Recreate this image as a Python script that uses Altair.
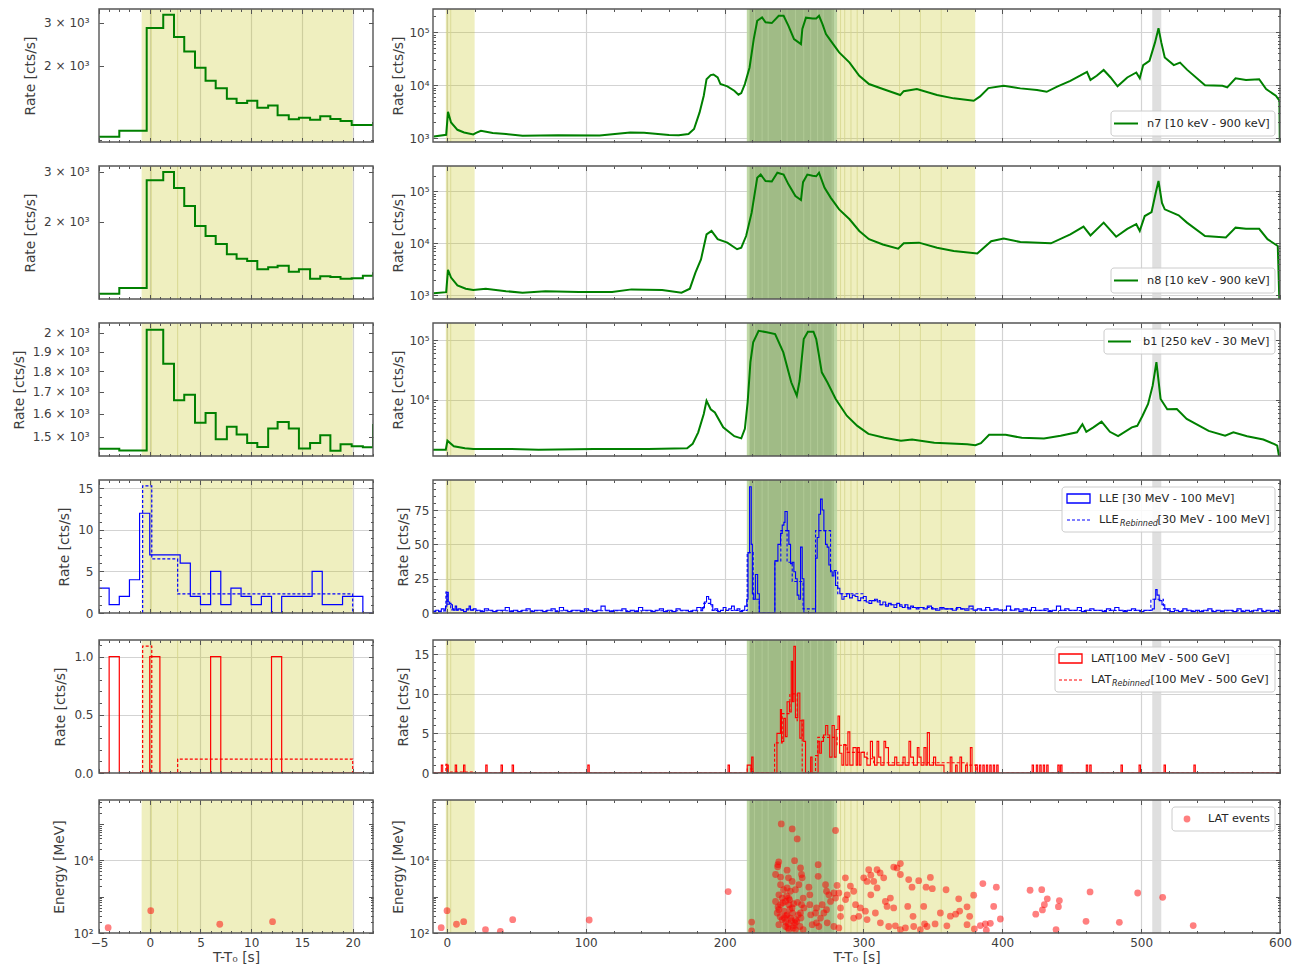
import altair as alt
import pandas as pd

FONT = "DejaVu Sans"
TXT = "#3d3d3d"
LEG_TXT = "#262626"
FRAME = "#555555"
GRIDC = "#d3d3d3"
C_GBM = "#008000"
C_LLE = "#0000ff"
C_LAT = "#ff0000"
C_YEL = "#bfbf00"
C_GRN = "#9db983"
C_GRN_EDGE = "#b8d49c"
C_GREY = "#dcdcdc"

WL, WR, H = 274, 847, 133
TL, TM = 4.5, 2.5

# ======================= DATA =======================
# --- shaded intervals
YEL_L_A, YEL_L_B = [-0.8], [20.0]
YEL_R_A, YEL_R_B = [-0.8, 280.6], [20.0, 380.5]
GRN_EDGE_A, GRN_EDGE_B = [216.0], [281.0]
GRN_A, GRN_B = [218.0], [278.6]
GREY_A, GREY_B = [508.0], [514.5]
BLOCK_L = [0.15, 2.75]
BLOCK_G = [221.5, 227.0, 231.4, 241.0, 245.0, 251.0, 257.0, 262.0, 267.0, 271.0, 277.5]
BLOCK_Y = [283.5, 286.5, 291.0, 295.5, 326.0, 341.0, 356.0]

# --- left GBM light curves (bin edges, rates)
GBM_L_EDGES = [-5, -3, -0.3, 1.33, 2.39, 3.4, 4.46, 5.5, 6.5, 7.6, 8.56, 9.6, 10.6, 11.67,
               12.6, 13.7, 14.7, 15.8, 16.8, 17.8, 18.8, 19.9, 21.0, 22.0]
N7_L = [1026, 1086, 2862, 3236, 2630, 2290, 1968, 1738, 1622, 1470, 1410, 1441, 1349, 1379,
        1256, 1210, 1228, 1205, 1245, 1213, 1191, 1146, 1146, 1180]
N8_L = [1111, 1164, 2805, 3000, 2630, 2274, 1932, 1780, 1667, 1532, 1479, 1451, 1356, 1378,
        1397, 1330, 1356, 1256, 1280, 1273, 1256, 1260, 1285, 1323]
B1_L = [1452, 1445, 2018, 1837, 1660, 1686, 1560, 1603, 1490, 1543, 1510, 1475, 1459, 1535,
        1563, 1535, 1453, 1475, 1507, 1444, 1470, 1462, 1458, 1555]

# --- left LLE / LAT
LLE_L_T = [-5, -4, -3, -2, -1, 0, 1, 2, 3, 4, 5, 6, 7, 8, 9, 10, 11, 12, 13, 14, 15, 16, 17, 18,
           19, 20, 21, 22]
LLE_L_V = [3, 1, 2, 4, 12, 7, 7, 7, 6, 2, 1, 5, 1, 3, 2, 1, 2, 0, 2, 2, 2, 5, 1, 1, 2, 2, 0, 0]
LLE_REB_L_T = [-0.7, -0.7, 0.2, 2.75, 20.0]
LLE_REB_L_V = [0, 15.3, 6.5, 2.3, 0]
LAT_L_SPIKES = [-4, 0, 6, 12]
LAT_REB_L_T = [-0.7, -0.7, 0.2, 2.75, 20.0]
LAT_REB_L_V = [0, 1.09, 0, 0.12, 0]
EV_L = [(-4.1, 140), (0.1, 410), (6.9, 174), (12.1, 205)]

# --- right GBM light curves
N7_R_T = [-9.5, -0.5, 0.8, 3, 7.6, 12.4, 19, 21, 24.5, 33, 42.6, 54.5, 80, 110, 132, 142, 160, 167,
          174, 178, 182, 185, 187, 190, 192, 195, 197, 202, 207, 210, 212, 214.6, 218, 221, 223.5,
          227, 229.5, 234, 239, 242.5, 246, 250, 255, 256, 258.6, 263.4, 266, 268, 270.5, 273,
          276.5, 282.5, 290, 297, 304, 314, 326.5, 329, 338.5, 353, 365, 379.4, 384, 390, 401, 413,
          425, 432, 439.5, 449, 456, 461, 463.5, 468, 473, 478, 483, 490, 496.5, 499, 501.5, 506,
          510, 512.5, 514.5, 517, 523.5, 528, 533, 546, 558.6, 562, 568, 575.5, 585, 590, 597,
          599.6, 600]
N7_R_V = [1070, 1150, 3130, 1970, 1430, 1275, 1170, 1250, 1370, 1240, 1190, 1100, 1130, 1110, 1275,
          1260, 1140, 1130, 1190, 1480, 3050, 6300, 13000, 15500, 15900, 14000, 10500, 9500, 7850,
          6600, 7100, 10500, 21700, 74600, 166000, 192000, 155000, 150000, 206000, 206000, 133000,
          74600, 60000, 116000, 190000, 184000, 184000, 206000, 143000, 93000, 69000, 41700, 26800,
          15100, 10500, 8450, 6500, 7700, 8450, 6500, 5630, 5070, 6130, 8800, 9750, 8700, 8130,
          7500, 9400, 12100, 15100, 17900, 12600, 15100, 19400, 14000, 9500, 14000, 17400, 13500,
          24000, 29000, 64600, 120000, 64600, 33600, 24000, 26800, 19700, 10000, 9750, 9100, 13500,
          12500, 13000, 8450, 6300, 5070, 300]
N8_R_T = [-9.5, -0.5, 0.8, 3, 7.6, 13.6, 19, 28, 42.6, 54.5, 71, 95, 119, 133, 155, 169, 175, 179,
          183, 187, 190.6, 195, 202, 209, 212, 215.5, 219.5, 223.5, 226, 229.5, 234, 238, 242.5,
          246, 251, 255, 256.5, 259.6, 263.4, 266, 268, 272, 276.5, 282.5, 290, 297, 304, 314, 325,
          329, 340, 353, 365, 382, 392, 401, 413, 435, 449, 458.5, 463.5, 473, 482, 490, 496.5,
          499, 502.6, 507.5, 510.5, 512.5, 515, 517, 527, 533, 546, 561, 568, 575.5, 585, 591,
          598.4, 600]
N8_R_V = [1100, 1150, 3100, 2190, 1550, 1340, 1260, 1340, 1200, 1120, 1200, 1160, 1160, 1300, 1260,
          1120, 1340, 2720, 4900, 14800, 17300, 12000, 10300, 7700, 8250, 13800, 38900, 182000,
          210000, 158000, 155000, 228000, 210000, 136000, 81000, 68000, 150000, 210000, 200000,
          195000, 228000, 117000, 75000, 45000, 29000, 17300, 12000, 9500, 7900, 10000, 10300,
          8200, 7100, 6400, 11000, 12300, 10600, 10000, 14800, 20900, 14200, 25000, 13400, 19000,
          23300, 17300, 33500, 40000, 94000, 158000, 60000, 45000, 34500, 25000, 13800, 13000,
          20000, 19000, 19000, 12000, 8900, 300]
B1_R_T = [-10, -0.8, 0.4, 5, 13, 19, 46.6, 66, 106, 145, 173, 177, 181, 185, 187, 190, 193, 199,
          207, 212, 214.6, 216.6, 218.6, 220.6, 224.5, 230.4, 236.4, 242.3, 248, 252, 254, 257,
          260, 264, 266, 270, 274, 280, 288, 295.6, 303.6, 315, 327, 335, 351, 374.7, 380.6, 384.6,
          390.5, 402.4, 414, 430, 442, 453.8, 457.7, 460.5, 465.6, 471.5, 477.5, 483.4, 493.3,
          497.2, 501, 505, 508.3, 511, 514, 518.8, 525.7, 532.8, 548.6, 560.5, 566.4, 576.3, 588,
          596, 598, 600]
B1_R_V = [1455, 1455, 2055, 1660, 1535, 1490, 1490, 1455, 1490, 1490, 1535, 1820, 2840, 5760, 9600,
          6930, 6130, 3450, 2450, 2250, 3250, 9050, 42500, 91500, 143000, 135000, 126000, 62000,
          19600, 11700, 20800, 104000, 138000, 138000, 104000, 28800, 19600, 10300, 5400, 3640,
          2680, 2300, 2060, 2150, 1900, 1800, 1730, 1870, 2580, 2580, 2300, 2250, 2500, 2840, 3900,
          2900, 3450, 4300, 2900, 2450, 3450, 3650, 5400, 8500, 17200, 42500, 10300, 6930, 7000,
          4780, 3000, 2500, 2840, 2450, 2150, 1800, 1700, 900]

# --- right LLE (bin start, rate)
LLE_R_PRE = [(-10, 1), (-8, 2), (-6, 1), (-4, 3), (-2, 2), (-1, 5), (0, 15), (1, 8), (2, 7), (3, 6),
             (4, 3), (5, 2), (6, 5), (7, 2), (8, 3), (10, 2), (12, 1), (14, 3), (16, 5), (17, 2),
             (19, 3)]
LLE_R_BASE1 = [2, 1, 3, 2, 1, 2, 2, 4, 1, 2, 1, 2, 3, 1, 2, 2, 1, 2, 3, 1, 4, 2, 1, 2, 2, 1, 3, 2,
               1, 2, 5, 2, 1, 2, 2, 3, 1, 2, 1, 4, 2, 2, 1, 2, 3, 1, 2, 1, 3, 2, 2, 1, 2, 4, 2]  # 3-s bins from 21 s
LLE_R_MID = [(184, 4), (185.5, 8), (187, 12), (188.5, 10), (190, 6), (191.5, 2), (193, 3), (195, 1),
             (197, 2), (199, 4), (201, 2), (203, 3), (205, 5), (207, 2), (209, 3), (211, 1),
             (213, 2), (214.5, 5), (216, 10), (216.9, 44), (218.0, 92), (219.2, 50), (220.0, 14),
             (221.0, 10), (222.2, 28), (223.8, 14), (225.0, 0), (236.2, 38), (238.4, 50),
             (240.3, 58), (241.5, 64), (242.7, 66), (243.5, 74), (245.1, 60), (246.3, 50),
             (247.5, 36), (248.7, 37), (249.9, 30), (251.1, 25), (252.3, 13), (253.5, 10),
             (254.7, 48), (255.9, 25), (257.1, 0), (265.5, 40), (266.7, 55), (267.9, 72),
             (269.1, 83), (270.3, 75), (271.5, 60), (272.7, 50), (273.9, 48), (275.1, 35),
             (276.3, 30), (277.5, 27), (278.7, 30), (279.9, 20), (281.5, 18), (283, 14),
             (284.5, 10), (286, 12), (288, 14), (290, 11), (292, 13), (294, 12), (296, 9),
             (298, 11), (300, 12), (302, 8), (304, 7), (306, 9), (308, 10), (310, 8), (312, 6),
             (314, 8), (316, 5), (318, 7), (320, 6), (322, 4), (324, 7), (326, 5), (328, 4),
             (330, 6), (332, 3), (334, 5), (336, 4), (338, 3)]
LLE_R_BASE2 = [4, 3, 5, 3, 2, 4, 3, 3, 2, 4, 3, 2, 5, 2, 3, 2, 4, 2, 3, 2, 2, 5, 2, 3, 1, 3, 2, 4,
               2, 2, 3, 1, 2, 5, 2, 3, 2, 2, 4, 1, 2, 3, 2, 2, 1, 3, 2, 4, 2, 1, 2, 3, 2, 1, 2, 2]  # 3-s bins from 340 s
LLE_R_FLARE = [(508, 3), (509.5, 10), (510.5, 17), (511.5, 13), (513, 9), (515, 6), (517, 3),
               (519, 2)]
LLE_R_BASE3 = [1, 2, 1, 3, 2, 1, 2, 1, 2, 3, 1, 2, 1, 2, 2, 1, 3, 1, 2, 1, 2, 3, 1, 2, 1, 2, 1]  # 3-s bins from 521 s
LLE_REB_R = [(-10, 1.5), (-0.7, 15.3), (0.2, 6.5), (2.75, 2.3), (20, 1.6), (185, 7), (191, 1.8),
             (216.3, 44), (220.6, 10), (225.0, 0), (236.2, 38), (240.5, 60), (245.0, 37),
             (248.7, 23), (256.5, 3), (265.5, 60), (276.3, 31), (281.5, 14), (300, 9), (312, 6),
             (330, 4), (350, 3), (380, 2.2), (420, 1.8), (507, 10), (516, 3), (525, 1.6),
             (600, 1.6)]

# --- right LAT
LAT_R_SPIKES = [-4, 0, 6, 12, 28, 39, 47, 101.5, 202.5, 383.5, 386, 388.5, 391, 393.5, 396, 421.5,
                424.5, 427, 429.5, 432, 440, 442, 460.5, 463, 485.5, 498.5, 516.5, 538]
LAT_R_BURST = [(216.3, 1), (219, 0), (219.5, 2), (220.5, 0), (237.7, 5), (240.2, 8), (241, 4),
               (242.6, 6.9), (243.8, 4.6), (245, 9), (246.7, 7.7), (248, 14.1), (248.9, 9),
               (249.9, 16), (251, 7), (252.7, 10.1), (254.2, 4.4), (255.7, 6.7), (257, 4),
               (258.3, 0), (262, 2), (263, 0), (267.3, 4), (268.5, 2.5), (269.7, 4), (271.2, 4.8),
               (272.8, 6), (274.3, 4.8), (275.7, 2), (277.4, 6), (279, 2), (280.3, 5.5),
               (281.7, 7.2), (282.8, 2.5), (284.5, 1), (285.8, 3.6), (287.3, 1), (288.8, 5.2),
               (290.2, 1), (292.5, 3.2), (294.8, 1), (295.8, 3.2), (297, 1), (298.2, 2.6),
               (300.6, 2), (302.5, 1), (305, 4), (306.5, 2), (308, 1), (309.8, 4), (311, 2),
               (312.5, 1), (314.8, 4), (316, 3.2), (318, 1), (322.5, 2), (324, 1), (328.5, 2),
               (330, 1), (332.8, 4), (334, 2), (336, 1), (338.8, 3.2), (340, 2), (341.5, 1),
               (343.6, 3.2), (345, 1), (346, 5.1), (347.5, 1), (350.5, 2), (352, 1), (358, 0),
               (362.5, 2), (363.7, 0), (366.4, 1), (367.5, 0), (369.5, 2), (370.7, 0), (373.6, 1),
               (374.8, 0), (377, 3.2), (378.2, 0), (380.8, 1), (382, 0)]
LAT_REB_R = [(-10, 0), (-0.7, 1.09), (0.2, 0), (2.75, 0.12), (20, 0), (216.3, 0.5), (220.6, 0),
             (236, 3.8), (241.5, 7.5), (247, 10), (252.3, 6.6), (255.9, 0), (265.5, 2.2),
             (267.1, 4.5), (281, 3.5), (288.3, 2.6), (302.6, 1.8), (307.4, 1.3), (374.6, 1.0),
             (381.8, 0), (600, 0)]

# --- LAT events (time, energy MeV)
EV_PRE = [(-4.1, 140), (0.1, 410), (6.9, 174), (12.1, 205), (27.8, 123), (38.5, 111), (47.4, 232),
          (102.5, 228), (202.6, 1380), (219.5, 200), (219.5, 115)]
EV_BURST = [(240.8, 100000), (248.7, 73300), (252.3, 38900), (279.9, 66100),
            (238.4, 7590), (239.0, 9120), (238.2, 6610), (245.0, 5370), (250.4, 9770), (254.7, 6170),
            (255.4, 4070), (267.4, 7590), (267.4, 3630), (240.3, 3470), (246.0, 3310), (260.7, 1820),
            (272.7, 2140), (273.4, 1410), (281.0, 2040), (287.0, 3310), (300.2, 3310), (303.8, 5500),
            (309.8, 5500), (305.3, 3890), (314.6, 3310), (324.2, 6170), (326.6, 8130), (326.6, 4070),
            (332.6, 2950), (339.8, 2750), (348.2, 3390), (335.0, 1820), (345.1, 1820), (349.6, 1660),
            (359.5, 1550), (368.6, 870), (379.4, 1100), (374.6, 525), (376.5, 288), (366.4, 330),
            (369.3, 400), (355.4, 355), (362.6, 290), (351.6, 178), (360.1, 158), (374.6, 170),
            (343.4, 537), (335.7, 288), (344.0, 178), (331.9, 537), (317.0, 537), (321.8, 490),
            (315.8, 741), (319.4, 912), (305.3, 1120), (309.8, 1740), (302.6, 2630), (307.4, 2630),
            (293.0, 1410), (290.6, 1950), (288.3, 1120), (294.3, 603), (297.8, 490), (301.4, 398),
            (308.6, 355), (296.6, 288), (293.0, 257), (302.6, 234), (312.2, 190), (318.2, 151),
            (323.0, 158), (330.2, 138), (336.2, 151), (341.0, 123), (345.8, 151), (326.6, 123),
            (283.5, 490), (283.5, 288), (287.1, 832), (279.9, 912), (282.3, 1260), (278.7, 1260),
            (275.1, 1120), (276.3, 741), (273.4, 437), (270.3, 603), (271.5, 355), (269.1, 257),
            (273.9, 190), (278.7, 151), (282.3, 138), (267.9, 151), (265.5, 355), (266.2, 490),
            (261.4, 603), (256.6, 912), (255.4, 603), (253.0, 316), (250.7, 190), (249.5, 138),
            (254.3, 151), (256.6, 123), (246.1, 912), (247.3, 1410), (245.0, 1740), (242.5, 1550),
            (240.3, 2140), (239.1, 1120), (241.5, 912), (243.9, 741), (246.3, 603), (248.7, 490),
            (242.7, 398), (239.1, 437), (245.0, 316), (247.5, 257), (251.0, 234), (241.5, 234),
            (239.1, 170), (243.9, 151), (246.3, 123), (251.0, 123), (254.7, 355), (257.1, 490),
            (236.7, 741), (237.9, 355), (240.3, 603), (248.7, 2630), (255.9, 3310), (253.5, 2140),
            (261.4, 1120), (263.1, 170), (266.2, 190), (262.0, 316), (236.7, 4070), (251.0, 1550),
            (244.0, 200), (246.0, 180), (248.0, 220), (250.0, 160), (252.0, 210), (244.5, 300),
            (249.0, 350), (247.0, 450), (243.0, 260), (245.5, 140), (240.0, 280), (238.5, 520),
            (252.5, 700), (255.0, 260), (242.0, 680), (249.7, 640), (246.8, 820), (244.7, 1050),
            (321.8, 6500), (312.0, 4500)]
EV_POST = [(379.9, 129), (384.2, 160), (386.0, 2290), (387.8, 177), (388.5, 119), (391.4, 185),
           (393.8, 540), (395.7, 1820), (398.6, 243), (420.0, 1500), (424.1, 330), (428.4, 1560),
           (428.9, 430), (430.3, 600), (432.4, 870), (438.7, 123), (440.4, 530), (441.1, 780),
           (460.3, 210), (463.2, 1350), (484.3, 197), (497.5, 1260), (515.5, 960), (537.5, 160)]

# ======================= HELPERS =======================
ONE = pd.DataFrame({"k": [0]})


def spans(xs, a, b, color, opacity):
    df = pd.DataFrame({"a": a, "b": b})
    return alt.Chart(df).mark_rect(color=color, opacity=opacity, clip=True).encode(
        x=alt.X("a:Q", scale=xs, axis=None), x2="b:Q", y=alt.value(0), y2=alt.value(H))


def vlines(xs, vals, color, width, opacity):
    df = pd.DataFrame({"a": vals})
    return alt.Chart(df).mark_rule(color=color, strokeWidth=width, opacity=opacity, clip=True).encode(
        x=alt.X("a:Q", scale=xs, axis=None), y=alt.value(0), y2=alt.value(H))


def curve(xs, ys, t, v, color, width, dash=None, interp="step-after"):
    df = pd.DataFrame({"t": list(t), "v": list(v), "i": list(range(len(t)))})
    kw = dict(color=color, strokeWidth=width, interpolate=interp, clip=True)
    if dash:
        kw["strokeDash"] = dash
    return alt.Chart(df).mark_line(**kw).encode(
        x=alt.X("t:Q", scale=xs, axis=None), y=alt.Y("v:Q", scale=ys, axis=None), order="i:Q")


def dots(xs, ys, pairs):
    df = pd.DataFrame(pairs, columns=["t", "e"])
    return alt.Chart(df).mark_circle(color=C_LAT, opacity=0.5, size=46, clip=True).encode(
        x=alt.X("t:Q", scale=xs, axis=None), y=alt.Y("e:Q", scale=ys, axis=None))


def lbox(x1, x2, y1, y2):
    return alt.Chart(ONE).mark_rect(fill="white", fillOpacity=0.85, stroke="#cccccc", strokeWidth=1,
                                    cornerRadius=3).encode(
        x=alt.value(x1), x2=alt.value(x2), y=alt.value(y1), y2=alt.value(y2))


def ltext(x, y, s, size=11.3, italic=False):
    return alt.Chart(ONE).mark_text(text=s, align="left", baseline="middle", font=FONT, fontSize=size,
                                    color=LEG_TXT, fontStyle="italic" if italic else "normal").encode(
        x=alt.value(x), y=alt.value(y))


def lrule(x1, x2, y, color, width, dash=None):
    kw = dict(color=color, strokeWidth=width)
    if dash:
        kw["strokeDash"] = dash
    return alt.Chart(ONE).mark_rule(**kw).encode(x=alt.value(x1), x2=alt.value(x2), y=alt.value(y))


def lsym_rect(x1, x2, y1, y2, color):
    return alt.Chart(ONE).mark_rect(fillOpacity=0, stroke=color, strokeWidth=1.3).encode(
        x=alt.value(x1), x2=alt.value(x2), y=alt.value(y1), y2=alt.value(y2))


def ldot(x, y):
    return alt.Chart(ONE).mark_circle(color=C_LAT, opacity=0.5, size=46).encode(x=alt.value(x), y=alt.value(y))


def frame(w):
    return alt.Chart(ONE).mark_rect(fillOpacity=0, stroke=FRAME, strokeWidth=1.4).encode(
        x=alt.value(0), x2=alt.value(w), y=alt.value(0), y2=alt.value(H))


def make_panel(w, xdom, ydom, ylog, xmaj, xmin, ymaj, ymin, ygrid, ytitle, ylab, xlabels, content,
               ypad, ytpad):
    xs = alt.Scale(domain=xdom, nice=False, zero=False)
    if ylog:
        ys = alt.Scale(type="log", domain=ydom, nice=False)
    else:
        ys = alt.Scale(type="linear", domain=ydom, nice=False, zero=False)
    dummy = pd.DataFrame({"x": [xdom[0]], "y": [ydom[0]]})

    def dl(xaxis, yaxis):
        return alt.Chart(dummy).mark_point(opacity=0).encode(
            x=alt.X("x:Q", scale=xs, axis=xaxis), y=alt.Y("y:Q", scale=ys, axis=yaxis))

    gx = [v for v in xmaj if xdom[0] < v < xdom[1]]
    gkw = dict(grid=True, ticks=False, labels=False, domain=False, title=None, gridColor=GRIDC,
               gridWidth=1.2)
    grid_layer = dl(alt.Axis(values=gx, **gkw), alt.Axis(values=ygrid, **gkw) if ygrid else None)

    tick_kw = dict(domain=False, grid=False, tickColor=FRAME, tickWidth=1, zindex=1)
    quiet = dict(labels=False, title=None, **tick_kw)

    xa = dict(orient="bottom", values=xmaj, tickSize=TL, offset=-TL, labelFlush=False,
              labelOverlap=False, **tick_kw)
    if xlabels:
        xa.update(labels=True, title="T-T₀ [s]", labelPadding=4, titlePadding=2)
    else:
        xa.update(labels=False, title=None)
    ya = dict(orient="left", values=ymaj, tickSize=TL, offset=-TL, labelOverlap=False,
              labelFlush=False, labelPadding=ypad, titlePadding=ytpad, title=ytitle, **tick_kw)
    ya.update(ylab)
    main_layer = dl(alt.Axis(**xa), alt.Axis(**ya))

    minor_layer = dl(alt.Axis(orient="bottom", values=xmin, tickSize=TM, offset=-TM, **quiet),
                     alt.Axis(orient="left", values=ymin, tickSize=TM, offset=-TM, **quiet) if ymin else None)
    tr_layer = dl(alt.Axis(orient="top", values=xmaj, tickSize=TL, offset=-TL, **quiet),
                  alt.Axis(orient="right", values=ymaj, tickSize=TL, offset=-TL, **quiet))
    trm_layer = dl(alt.Axis(orient="top", values=xmin, tickSize=TM, offset=-TM, **quiet),
                   alt.Axis(orient="right", values=ymin, tickSize=TM, offset=-TM, **quiet) if ymin else None)

    layers = [grid_layer] + content(xs, ys) + [frame(w), main_layer, minor_layer, tr_layer, trm_layer]
    return alt.layer(*layers).resolve_axis(x="independent", y="independent").properties(width=w, height=H)


def right_shading(xs):
    return [spans(xs, YEL_R_A, YEL_R_B, C_YEL, 0.25),
            spans(xs, GRN_EDGE_A, GRN_EDGE_B, C_GRN_EDGE, 0.9),
            spans(xs, GRN_A, GRN_B, C_GRN, 0.92),
            spans(xs, GREY_A, GREY_B, C_GREY, 0.9),
            vlines(xs, BLOCK_G, "#b4cd98", 1, 0.8),
            vlines(xs, BLOCK_Y + BLOCK_L, "#d6d68c", 1, 0.8)]


def left_shading(xs):
    return [spans(xs, YEL_L_A, YEL_L_B, C_YEL, 0.25),
            vlines(xs, BLOCK_L, "#d6d68c", 1, 0.9)]


def step_pairs(pairs):
    return [p[0] for p in pairs], [p[1] for p in pairs]


def spike_series(spikes, start, end, extra=()):
    pts = [(start, 0)]
    for t in spikes:
        pts += [(t, 1), (t + 1, 0)]
    pts += list(extra)
    pts.append((end, 0))
    pts = sorted(pts, key=lambda p: p[0])
    return step_pairs(pts)


def lle_right_series():
    pts = list(LLE_R_PRE)
    pts += [(21 + 3 * i, v) for i, v in enumerate(LLE_R_BASE1)]
    pts += LLE_R_MID
    pts += [(340 + 3 * i, v) for i, v in enumerate(LLE_R_BASE2)]
    pts += LLE_R_FLARE
    pts += [(521 + 3 * i, v) for i, v in enumerate(LLE_R_BASE3)]
    pts.append((600, 1))
    return step_pairs(pts)


# ======================= AXES SPECS =======================
XDOM_L, XDOM_R = [-5, 22], [-10, 600]
XMAJ_L = [-5, 0, 5, 10, 15, 20]
XMIN_L = [v for v in range(-5, 23) if v % 5 != 0]
XMAJ_R = [0, 100, 200, 300, 400, 500, 600]
XMIN_R = [v for v in range(-0, 600, 20) if v % 100 != 0]

LOG_R_LAB = {"labelExpr": "datum.value == 100 ? '10²' : datum.value == 1000 ? '10³' : datum.value == 10000 ? '10⁴' : datum.value == 100000 ? '10⁵' : ''"}
EV_LAB = {"labelExpr": "datum.value == 100 ? '10²' : datum.value == 10000 ? '10⁴' : ''"}
K_LAB = {"labelExpr": "(datum.value / 1000) + ' × 10³'"}

DEC_MIN_34 = [m * 10 ** e for e in (3, 4) for m in range(2, 10)] + [200000]
EV_MAJ = [100, 1000, 10000, 100000]
EV_MIN = [m * 10 ** e for e in (2, 3, 4) for m in range(2, 10)] + [200000, 300000, 400000]

RATE = "Rate [cts/s]"

# ======================= PANELS =======================
panels = []

# row 1: n7
panels.append(make_panel(
    WL, XDOM_L, [977, 3420], True, XMAJ_L, XMIN_L, [2000, 3000], [1000], [], RATE, K_LAB, False,
    lambda xs, ys: left_shading(xs) + [curve(xs, ys, GBM_L_EDGES, N7_L, C_GBM, 2)], 10, 6))
panels.append(make_panel(
    WR, XDOM_R, [840, 277000], True, XMAJ_R, XMIN_R, [1000, 10000, 100000], DEC_MIN_34,
    [1000, 10000, 100000], RATE, LOG_R_LAB, False,
    lambda xs, ys: right_shading(xs) + [
        curve(xs, ys, N7_R_T, N7_R_V, C_GBM, 2, interp="linear"),
        lbox(678, 842, 102, 127), lrule(681, 705, 114.5, C_GBM, 2), ltext(714, 114.5, "n7 [10 keV - 900 keV]")],
    4, 3))

# row 2: n8
panels.append(make_panel(
    WL, XDOM_L, [1064, 3150], True, XMAJ_L, XMIN_L, [2000, 3000], [], [], RATE, K_LAB, False,
    lambda xs, ys: left_shading(xs) + [curve(xs, ys, GBM_L_EDGES, N8_L, C_GBM, 2)], 10, 6))
panels.append(make_panel(
    WR, XDOM_R, [849, 307000], True, XMAJ_R, XMIN_R, [1000, 10000, 100000], DEC_MIN_34,
    [1000, 10000, 100000], RATE, LOG_R_LAB, False,
    lambda xs, ys: right_shading(xs) + [
        curve(xs, ys, N8_R_T, N8_R_V, C_GBM, 2, interp="linear"),
        lbox(678, 842, 102, 127), lrule(681, 705, 114.5, C_GBM, 2), ltext(714, 114.5, "n8 [10 keV - 900 keV]")],
    4, 3))

# row 3: b1
panels.append(make_panel(
    WL, XDOM_L, [1423, 2056], True, XMAJ_L, XMIN_L, [1500, 1600, 1700, 1800, 1900, 2000], [], [],
    RATE, K_LAB, False,
    lambda xs, ys: left_shading(xs) + [curve(xs, ys, GBM_L_EDGES, B1_L, C_GBM, 2)], 10, 6))
panels.append(make_panel(
    WR, XDOM_R, [1140, 193000], True, XMAJ_R, XMIN_R, [10000, 100000],
    [m * 10 ** e for e in (3, 4) for m in range(2, 10)], [10000, 100000], RATE, LOG_R_LAB, False,
    lambda xs, ys: right_shading(xs) + [
        curve(xs, ys, B1_R_T, B1_R_V, C_GBM, 2, interp="linear"),
        lbox(671, 842, 6, 31), lrule(675, 698, 18.5, C_GBM, 2), ltext(710, 18.5, "b1 [250 keV - 30 MeV]")],
    4, 3))

# row 4: LLE
lle_rt, lle_rv = lle_right_series()
lle_reb_t, lle_reb_v = step_pairs(LLE_REB_R)
panels.append(make_panel(
    WL, XDOM_L, [0, 16], False, XMAJ_L, XMIN_L, [0, 5, 10, 15],
    [v for v in range(1, 16) if v % 5 != 0], [5, 10, 15], RATE, {"format": "d"}, False,
    lambda xs, ys: left_shading(xs) + [
        curve(xs, ys, LLE_L_T, LLE_L_V, C_LLE, 1.2),
        curve(xs, ys, LLE_REB_L_T, LLE_REB_L_V, C_LLE, 1.2, dash=[3, 2])], 6, 6))
panels.append(make_panel(
    WR, XDOM_R, [0, 96.9], False, XMAJ_R, XMIN_R, [0, 25, 50, 75],
    [v for v in range(5, 96, 5) if v % 25 != 0], [25, 50, 75], RATE, {"format": "d"}, False,
    lambda xs, ys: right_shading(xs) + [
        curve(xs, ys, lle_rt, lle_rv, C_LLE, 1.1),
        curve(xs, ys, lle_reb_t, lle_reb_v, C_LLE, 1.1, dash=[3, 2]),
        lbox(629, 842, 7, 52), lsym_rect(634, 657, 14, 23, C_LLE),
        ltext(666, 18.5, "LLE [30 MeV - 100 MeV]"),
        lrule(634, 657, 40, C_LLE, 1.1, dash=[3, 2]),
        ltext(666, 40, "LLE"), ltext(687, 43.5, "Rebinned", size=8, italic=True),
        ltext(724.5, 40, "[30 MeV - 100 MeV]")],
    4, 3))

# row 5: LAT
lat_lt, lat_lv = spike_series(LAT_L_SPIKES, -5, 21)
lat_rt, lat_rv = spike_series(LAT_R_SPIKES, -10, 600, LAT_R_BURST)
lat_reb_t, lat_reb_v = step_pairs(LAT_REB_R)
panels.append(make_panel(
    WL, XDOM_L, [0, 1.142], False, XMAJ_L, XMIN_L, [0, 0.5, 1.0],
    [0.1, 0.2, 0.3, 0.4, 0.6, 0.7, 0.8, 0.9, 1.1], [0.5, 1.0], RATE, {"format": ".1f"}, False,
    lambda xs, ys: left_shading(xs) + [
        curve(xs, ys, lat_lt, lat_lv, C_LAT, 1.2),
        curve(xs, ys, LAT_REB_L_T, LAT_REB_L_V, C_LAT, 1.2, dash=[3, 2])], 6, 6))
panels.append(make_panel(
    WR, XDOM_R, [0, 16.8], False, XMAJ_R, XMIN_R, [0, 5, 10, 15],
    [v for v in range(1, 17) if v % 5 != 0], [5, 10, 15], RATE, {"format": "d"}, False,
    lambda xs, ys: right_shading(xs) + [
        curve(xs, ys, lat_rt, lat_rv, C_LAT, 1.1),
        curve(xs, ys, lat_reb_t, lat_reb_v, C_LAT, 1.1, dash=[3, 2]),
        lbox(622, 842, 7, 52), lsym_rect(626, 649, 14, 23, C_LAT),
        ltext(658, 18.5, "LAT[100 MeV - 500 GeV]"),
        lrule(626, 649, 40, C_LAT, 1.1, dash=[3, 2]),
        ltext(658, 40, "LAT"), ltext(679, 43.5, "Rebinned", size=8, italic=True),
        ltext(717.5, 40, "[100 MeV - 500 GeV]")],
    4, 3))

# row 6: LAT events
panels.append(make_panel(
    WL, XDOM_L, [100, 457000], True, XMAJ_L, XMIN_L, EV_MAJ, EV_MIN, [10000], "Energy [MeV]",
    EV_LAB, True,
    lambda xs, ys: left_shading(xs) + [dots(xs, ys, EV_L)], 6, 6))
panels.append(make_panel(
    WR, XDOM_R, [100, 457000], True, XMAJ_R, XMIN_R, EV_MAJ, EV_MIN, [10000], "Energy [MeV]",
    EV_LAB, True,
    lambda xs, ys: right_shading(xs) + [
        dots(xs, ys, EV_PRE + EV_BURST + EV_POST),
        lbox(739, 842, 7, 31), ldot(754, 19), ltext(775, 19, "LAT events")],
    4, 3))

chart = alt.concat(*panels, columns=2, spacing={"row": 20, "column": 17}).configure_axis(
    labelFont=FONT, titleFont=FONT, labelFontSize=12, titleFontSize=13.8, labelColor=TXT,
    titleColor=TXT, titleFontWeight="normal"
).configure_view(stroke=None).properties(padding={"left": 4, "top": 0, "right": 4, "bottom": 0})

chart.save("out.html", embed_options={"renderer": "svg", "actions": False})
